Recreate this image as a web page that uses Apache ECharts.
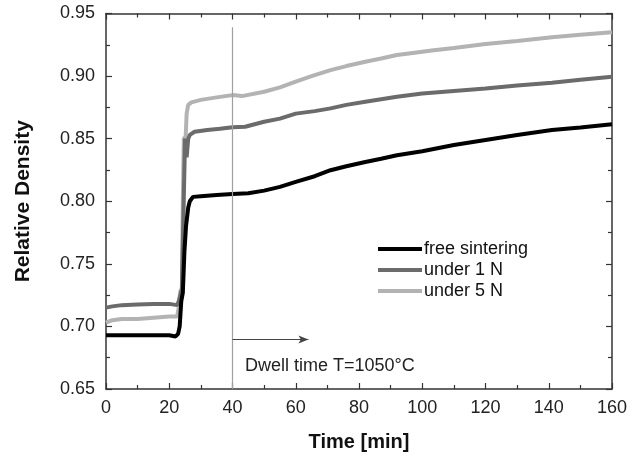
<!DOCTYPE html>
<html>
<head>
<meta charset="utf-8">
<script src="https://cdn.jsdelivr.net/npm/echarts@6/dist/echarts.min.js"></script>
<style>
  html, body { margin: 0; padding: 0; background: #fff; }
  #main { width: 640px; height: 456px; }
</style>
</head>
<body>
<div id="main"></div>
<script>
// series names
var seriesNames = ['free sintering', 'under 1 N', 'under 5 N'];

// free sintering (black)
var freeT = [0, 2, 5, 10, 15, 20, 22, 22.8, 23.3, 23.8, 24.3, 24.8, 25.3, 26, 26.5, 27.5, 30, 35, 40, 45, 50, 55, 60, 66, 71, 76, 82, 87, 92, 100, 110, 120, 130, 141, 150, 160];
var freeD = [0.693, 0.693, 0.693, 0.693, 0.693, 0.693, 0.692, 0.694, 0.700, 0.720, 0.727, 0.760, 0.780, 0.795, 0.800, 0.8035, 0.804, 0.805, 0.8058, 0.8064, 0.8085, 0.8115, 0.8155, 0.820, 0.8248, 0.828, 0.8314, 0.834, 0.8368, 0.840, 0.845, 0.849, 0.853, 0.857, 0.859, 0.8616];

// under 1 N (dark grey)
var oneT = [0, 2, 5, 10, 15, 20, 22.5, 23, 24, 24.5, 25, 25.5, 26, 26.5, 28, 32, 36, 40, 44, 50, 55, 60, 66, 71, 76, 82, 87, 92, 100, 110, 120, 130, 141, 150, 160];
var oneD = [0.715, 0.716, 0.717, 0.7175, 0.718, 0.718, 0.717, 0.720, 0.730, 0.790, 0.850, 0.835, 0.850, 0.853, 0.8555, 0.857, 0.858, 0.8592, 0.8595, 0.8635, 0.866, 0.870, 0.872, 0.8742, 0.877, 0.8795, 0.8815, 0.8835, 0.886, 0.888, 0.890, 0.8925, 0.8947, 0.897, 0.8994];

// under 5 N (light grey)
var fiveT = [0, 2, 5, 10, 15, 20, 22.5, 23, 23.5, 24, 24.3, 24.6, 25.2, 25.5, 26, 27, 30, 35, 40, 43, 50, 55, 60, 65, 71, 76, 82, 87, 92, 97, 103, 110, 120, 130, 141, 150, 160];
var fiveD = [0.703, 0.705, 0.706, 0.706, 0.707, 0.708, 0.708, 0.715, 0.728, 0.730, 0.800, 0.850, 0.852, 0.870, 0.877, 0.879, 0.881, 0.883, 0.8848, 0.884, 0.8875, 0.891, 0.8955, 0.900, 0.9048, 0.908, 0.9115, 0.914, 0.9168, 0.9185, 0.9205, 0.9225, 0.9256, 0.928, 0.931, 0.933, 0.935];

// annotations
var dwellStart = 40, dwellArrowEnd = 64, dwellArrowY = 0.6896, dwellLineTop = 0.939;
var dwellText = 'Dwell time T=1050°C';

function zip(xs, ys) {
    return xs.map(function (x, i) { return [x, ys[i]]; });
}

var myChart = echarts.init(document.getElementById('main'));

var axisColor = '#333';
var font = 'Arial, "Liberation Sans", Helvetica, sans-serif';

function baseX(pos, showLabel) {
    return {
        type: 'value', position: pos, min: 0, max: 160, interval: 20,
        axisLine: { show: true, onZero: false, lineStyle: { color: axisColor, width: 1.5 } },
        axisTick: { show: true, inside: true, length: 6, lineStyle: { color: axisColor, width: 1.2 } },
        minorTick: { show: true, splitNumber: 2, length: 4, lineStyle: { color: axisColor, width: 1.2 } },
        splitLine: { show: false },
        axisLabel: { show: showLabel, color: '#222', fontSize: 18, fontFamily: font, margin: 10 }
    };
}
function baseY(pos, showLabel) {
    return {
        type: 'value', position: pos, min: 0.65, max: 0.95, interval: 0.05,
        axisLine: { show: true, onZero: false, lineStyle: { color: axisColor, width: 1.5 } },
        axisTick: { show: true, inside: true, length: 6, lineStyle: { color: axisColor, width: 1.2 } },
        minorTick: { show: true, splitNumber: 2, length: 4, lineStyle: { color: axisColor, width: 1.2 } },
        splitLine: { show: false },
        axisLabel: {
            show: showLabel, color: '#222', fontSize: 18, fontFamily: font, margin: 11,
            formatter: function (v) { return v.toFixed(2); }
        }
    };
}

var xMain = baseX('bottom', true);
xMain.name = 'Time [min]';
xMain.nameLocation = 'middle';
xMain.nameGap = 43;
xMain.nameTextStyle = { fontSize: 20, fontWeight: 'bold', color: '#111', fontFamily: font };

var yMain = baseY('left', true);
yMain.name = 'Relative Density';
yMain.nameLocation = 'middle';
yMain.nameGap = 72;
yMain.nameTextStyle = { fontSize: 21, fontWeight: 'bold', color: '#111', fontFamily: font };

function lineSeries(name, data, color) {
    return {
        name: name, type: 'line', data: data, showSymbol: false, symbol: 'none',
        xAxisIndex: 0, yAxisIndex: 0,
        lineStyle: { color: color, width: 4 }, itemStyle: { color: color },
        animation: false
    };
}

var s1 = lineSeries(seriesNames[0], zip(freeT, freeD), '#000000');
var s2 = lineSeries(seriesNames[1], zip(oneT, oneD), '#6b6b6b');
var s3 = lineSeries(seriesNames[2], zip(fiveT, fiveD), '#b3b3b3');

s1.markLine = {
    silent: true, animation: false, symbol: 'none',
    label: { show: false },
    data: [
        [{ coord: [dwellStart, dwellLineTop], lineStyle: { color: '#a0a0a0', width: 1.2, type: 'solid' } },
         { coord: [dwellStart, 0.65] }],
        [{ coord: [dwellStart, dwellArrowY], symbol: 'none', lineStyle: { color: '#444', width: 1, type: 'solid' } },
         { coord: [dwellArrowEnd, dwellArrowY], symbol: 'arrow', symbolSize: [6, 10] }]
    ]
};

option = {
    backgroundColor: '#fff',
    animation: false,
    grid: { left: 106, right: 28, top: 13.5, bottom: 67, containLabel: false, outerBoundsMode: 'none' },
    legend: {
        orient: 'vertical', left: 373, top: 235, itemGap: 3,
        icon: 'rect', itemWidth: 44, itemHeight: 4,
        textStyle: { fontSize: 18, color: '#111', fontFamily: font, padding: [0, 0, 0, -3] },
        data: seriesNames
    },
    xAxis: [xMain, baseX('top', false)],
    yAxis: [yMain, baseY('right', false)],
    series: [s3, s2, s1],
    graphic: [{
        type: 'text', left: 245, top: 357,
        style: { text: dwellText, fontSize: 18, fill: '#222', fontFamily: font }
    }]
};

myChart.setOption(option);
</script>
</body>
</html>
